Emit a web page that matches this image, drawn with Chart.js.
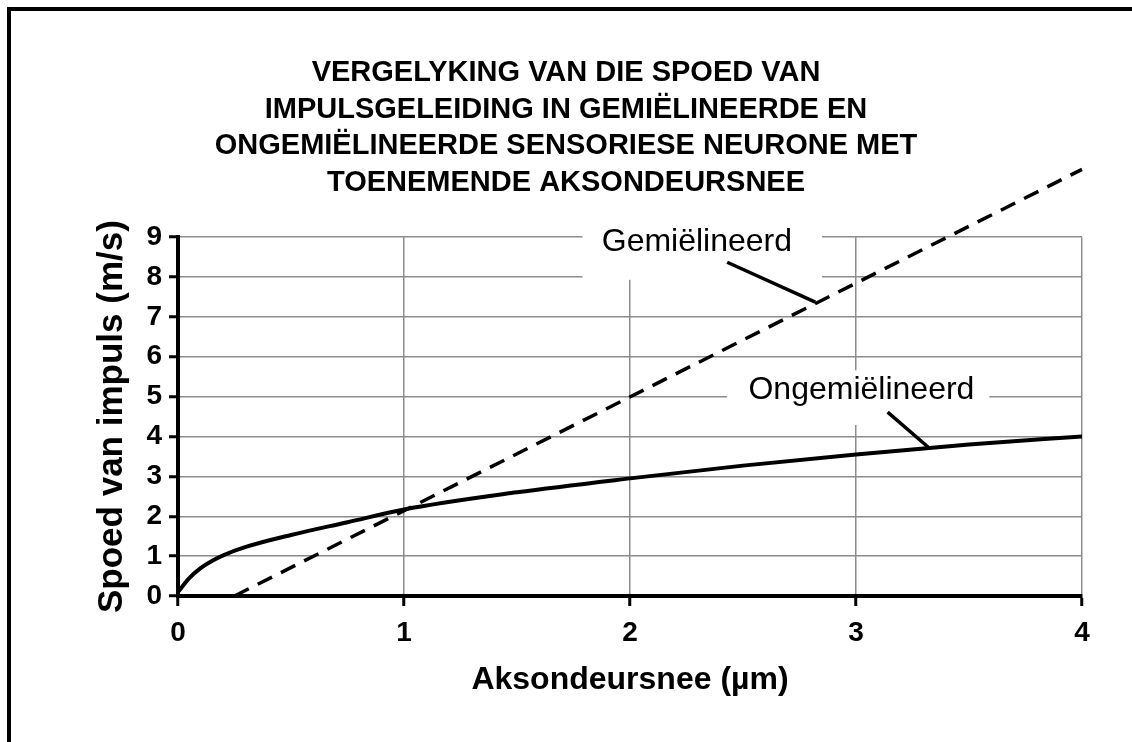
<!DOCTYPE html>
<html lang="af">
<head>
  <meta charset="UTF-8" />
  <title>Spoed van impulsgeleiding</title>
  <script src="https://cdn.jsdelivr.net/npm/chart.js"></script>
  <style>
    body {
      margin: 0;
      background: #fff;
      overflow: hidden;
    }
    .wrap {
      position: relative;
      width: 1132px;
      height: 742px;
    }
    canvas {
      position: absolute;
      left: 0;
      top: 0;
    }
    .frame {
      position: absolute;
      left: 7px;
      top: 7px;
      width: 1140px;
      height: 760px;
      border-left: 4px solid #000;
      border-top: 4px solid #000;
      pointer-events: none;
    }
  </style>
</head>
<body>
  <div class="wrap">
    <canvas id="chart" width="1132" height="742"></canvas>
    <div class="frame"></div>
  </div>

  <script>
    // data
    const titleLines = [
      'VERGELYKING VAN DIE SPOED VAN',
      'IMPULSGELEIDING IN GEMIËLINEERDE EN',
      'ONGEMIËLINEERDE SENSORIESE NEURONE MET',
      'TOENEMENDE AKSONDEURSNEE'
    ];
    const xTitle = 'Aksondeursnee (µm)';
    const yTitle = 'Spoed van impuls (m/s)';

    const myelinX = [0.25, 4];
    const myelinY = [0, 10.7];

    const unmyelinX = [0, 0.05, 0.1, 0.15, 0.2, 0.3, 0.5, 0.75, 1, 1.5, 2, 2.5, 3, 3.5, 4];
    const unmyelinY = [0.1, 0.45, 0.7, 0.88, 1.02, 1.23, 1.53, 1.85, 2.17, 2.6, 2.95, 3.27, 3.55, 3.8, 4.0];

    const seriesNames = ['Gemiëlineerd', 'Ongemiëlineerd'];

    // label boxes in data units: [xmin, xmax, ymin, ymax], text centre, leader line
    const labelBoxes = [[1.79, 2.85, 7.93, 9.6], [2.43, 3.59, 4.29, 5.66]];
    const labelCentre = [[2.296, 8.87], [3.024, 5.16]];
    const leaders = [[2.43, 8.37, 2.82, 7.37], [3.14, 4.61, 3.32, 3.73]];

    const FONT = '"Liberation Sans", Arial, sans-serif';

    const toPoints = (xs, ys) => xs.map((x, i) => ({ x: x, y: ys[i] }));

    const seriesLabels = {
      id: 'seriesLabels',
      beforeDatasetsDraw(chart) {
        const { ctx, scales: { x, y } } = chart;
        ctx.save();
        labelBoxes.forEach(b => {
          const l = x.getPixelForValue(b[0]);
          const r = x.getPixelForValue(b[1]);
          const t = y.getPixelForValue(b[3]);
          const btm = y.getPixelForValue(b[2]);
          ctx.fillStyle = '#fff';
          ctx.fillRect(l, t, r - l, btm - t);
        });
        ctx.font = '32px ' + FONT;
        ctx.fillStyle = '#000';
        ctx.textAlign = 'center';
        ctx.textBaseline = 'middle';
        seriesNames.forEach((name, i) => {
          ctx.fillText(name, x.getPixelForValue(labelCentre[i][0]), y.getPixelForValue(labelCentre[i][1]));
        });
        ctx.strokeStyle = '#000';
        ctx.lineWidth = 3.5;
        leaders.forEach(l => {
          ctx.beginPath();
          ctx.moveTo(x.getPixelForValue(l[0]), y.getPixelForValue(l[1]));
          ctx.lineTo(x.getPixelForValue(l[2]), y.getPixelForValue(l[3]));
          ctx.stroke();
        });
        ctx.restore();
      }
    };

    new Chart(document.getElementById('chart'), {
      type: 'line',
      data: {
        datasets: [
          {
            label: seriesNames[0],
            data: toPoints(myelinX, myelinY),
            borderColor: '#000',
            borderWidth: 3.5,
            borderDash: [16, 10],
            pointRadius: 0,
            clip: false
          },
          {
            label: seriesNames[1],
            data: toPoints(unmyelinX, unmyelinY),
            borderColor: '#000',
            borderWidth: 4,
            cubicInterpolationMode: 'monotone',
            pointRadius: 0
          }
        ]
      },
      options: {
        responsive: false,
        animation: false,
        layout: {
          padding: { top: 55, right: 50, bottom: 0, left: 50 }
        },
        plugins: {
          legend: { display: false },
          tooltip: { enabled: false },
          title: {
            display: true,
            text: titleLines,
            color: '#000',
            font: { family: FONT, size: 29, weight: 'bold', lineHeight: 1.26 },
            padding: { top: 0, bottom: 36 }
          }
        },
        scales: {
          x: {
            type: 'linear',
            min: 0,
            max: 4,
            afterFit: s => { s.height = 146; },
            ticks: {
              stepSize: 1,
              color: '#000',
              padding: 10,
              font: { family: FONT, size: 28, weight: 'bold' }
            },
            grid: {
              color: '#8c8c8c',
              lineWidth: 1.5,
              tickColor: '#000',
              tickWidth: 3,
              tickLength: 10
            },
            border: { color: '#000', width: 4 },
            title: {
              display: true,
              text: xTitle,
              color: '#000',
              padding: { top: 0, bottom: 43 },
              font: { family: FONT, size: 32, weight: 'bold' }
            }
          },
          y: {
            min: 0,
            max: 9,
            afterFit: s => { s.width = 128; },
            ticks: {
              stepSize: 1,
              color: '#000',
              padding: 7,
              font: { family: FONT, size: 28, weight: 'bold' }
            },
            grid: {
              color: '#8c8c8c',
              lineWidth: 1.5,
              tickColor: '#000',
              tickWidth: 3,
              tickLength: 9
            },
            border: { color: '#000', width: 4 },
            title: {
              display: true,
              text: yTitle,
              color: '#000',
              padding: { top: 41, bottom: 0 },
              font: { family: FONT, size: 35, weight: 'bold' }
            }
          }
        }
      },
      plugins: [seriesLabels]
    });
  </script>
</body>
</html>
